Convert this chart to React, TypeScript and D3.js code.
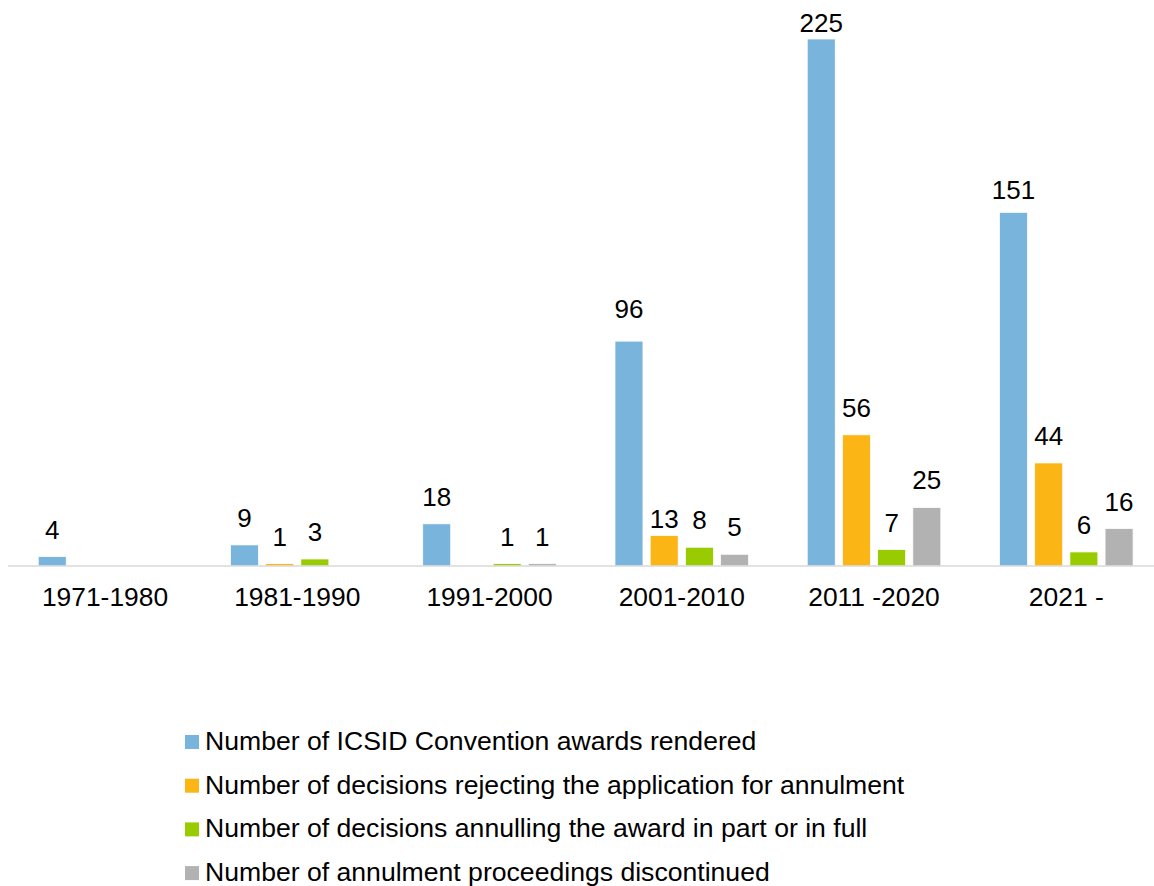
import React from "react";
import * as d3 from "d3";

const categories = ["1971-1980", "1981-1990", "1991-2000", "2001-2010", "2011 -2020", "2021 -"];
const seriesNames = [
  "Number of ICSID Convention awards rendered",
  "Number of decisions rejecting the application for annulment",
  "Number of decisions annulling the award in part or in full",
  "Number of annulment proceedings discontinued",
];
const awards = [4, 9, 18, 96, 225, 151];
const rejecting = [0, 1, 0, 13, 56, 44];
const annulling = [0, 3, 1, 8, 7, 6];
const discontinued = [0, 0, 1, 5, 25, 16];
const colors = ["#78B4DB", "#FBB514", "#99CC00", "#B2B2B2"];

const seriesValues = [awards, rejecting, annulling, discontinued];

// manual label nudges (px, positive = further up), as in the source chart
const labelNudge: Record<string, number> = {
  "3-0": 5,
  "3-1": -10,
  "4-0": -11,
  "5-0": -5,
};

export default function App() {
  const W = 1154;
  const H = 886;
  const baseline = 566;
  const font = "'Liberation Sans', Arial, sans-serif";

  const x0 = d3.scaleBand<string>().domain(categories).range([8.9, 1162.4]).paddingInner(0).paddingOuter(0);
  const innerW = 140.8;
  const x1 = d3
    .scaleBand<number>()
    .domain([0, 1, 2, 3])
    .range([0, innerW])
    .paddingInner(0.205)
    .paddingOuter(0.1025);
  const groupOffset = (x0.bandwidth() - innerW) / 2;
  const y = d3.scaleLinear().domain([0, 225]).range([baseline, 39]);

  return (
    <svg
      width={W}
      height={H}
      style={{ position: "absolute", left: 0, top: 0, display: "block", background: "#fff" }}
      fontFamily={font}
    >
      <rect x={0} y={0} width={W} height={H} fill="#fff" />
      {categories.map((c, ci) => (
        <g key={c} transform={`translate(${(x0(c) ?? 0) + groupOffset},0)`}>
          {seriesValues.map((vals, si) => {
            const v = vals[ci];
            if (!v) return null;
            const bx = x1(si) ?? 0;
            const bw = x1.bandwidth();
            const gap = 18 + (labelNudge[`${ci}-${si}`] ?? 0);
            return (
              <g key={si}>
                <rect
                  x={bx}
                  y={y(v)}
                  width={bw}
                  height={baseline - y(v)}
                  fill={colors[si]}
                  stroke="#fff"
                  strokeWidth={0.75}
                />
                <text
                  x={bx + bw / 2}
                  y={y(v) - gap}
                  textAnchor="middle"
                  fontSize={26}
                  fill="#000"
                >
                  {v}
                </text>
              </g>
            );
          })}
        </g>
      ))}
      <line x1={8} x2={W} y1={baseline} y2={baseline} stroke="#D9D9D9" strokeWidth={1.5} />
      {categories.map((c) => (
        <text
          key={c}
          x={(x0(c) ?? 0) + x0.bandwidth() / 2}
          y={606}
          textAnchor="middle"
          fontSize={26.4}
          fill="#000"
        >
          {c}
        </text>
      ))}
      {seriesNames.map((name, i) => {
        const base = 750 + i * 43.7;
        return (
          <g key={name}>
            <rect x={185} y={base - 15} width={14} height={14} fill={colors[i]} />
            <text x={205} y={base} fontSize={26.6} fill="#000">
              {name}
            </text>
          </g>
        );
      })}
    </svg>
  );
}
